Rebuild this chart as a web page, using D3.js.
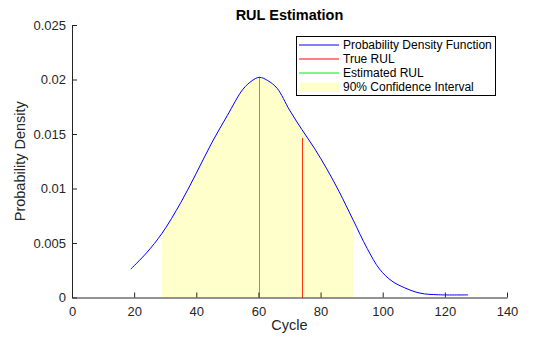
<!DOCTYPE html>
<html>
<head>
<meta charset="utf-8">
<script src="https://cdn.jsdelivr.net/npm/d3@7"></script>
<style>
  body { margin: 0; background: #fff; }
  text { font-family: Arial, "Liberation Sans", sans-serif; fill: #262626; }
</style>
</head>
<body>
<svg></svg>
<script>
// pdf of remaining useful life
const cycles  = [18.9, 24, 29, 35, 40, 45, 50, 55, 58, 60.3, 63, 66, 70, 74, 78, 82, 86,
                 90.5, 95, 99, 103, 107, 112, 118, 127.5];
const density = [0.0026, 0.0041, 0.0059, 0.0087, 0.0114, 0.0142, 0.0167, 0.0191, 0.0199, 0.0202, 0.0199, 0.0192,
                 0.0172, 0.0154, 0.0137, 0.0118, 0.0097, 0.0071, 0.0045, 0.0026, 0.0015, 0.0009, 0.0004,
                 0.00025, 0.00024];

const ciBounds = [28.9, 90.5];
const estRUL = [60.3, 0.0202];   // cycle, line top
const trueRUL = [74.1, 0.0146];

const xTicks = [0, 20, 40, 60, 80, 100, 120, 140];
const yTicks = [0, 0.005, 0.01, 0.015, 0.02, 0.025];
const yTickLabels = ['0', '0.005', '0.01', '0.015', '0.02', '0.025'];
const legendLabels = ['Probability Density Function', 'True RUL', 'Estimated RUL', '90% Confidence Interval'];

const W = 560, H = 337;
const svg = d3.select('svg')
    .attr('width', W)
    .attr('height', H);

const x = d3.scaleLinear().domain([0, 140]).range([72, 507]);
const y = d3.scaleLinear().domain([0, 0.025]).range([297.5, 25]);

const pts = cycles.map((c, i) => [c, density[i]]);

svg.append('clipPath')
    .attr('id', 'ci')
  .append('rect')
    .attr('x', x(ciBounds[0]))
    .attr('y', y(0.025))
    .attr('width', x(ciBounds[1]) - x(ciBounds[0]))
    .attr('height', y(0) - y(0.025));

const curve = d3.curveCatmullRom.alpha(0.5);

svg.append('path')
    .attr('clip-path', 'url(#ci)')
    .attr('fill', '#ffffcc')
    .attr('d', d3.area().curve(curve)
        .x(d => x(d[0]))
        .y0(y(0))
        .y1(d => y(d[1]))(pts));

svg.append('line')
    .attr('x1', x(estRUL[0])).attr('x2', x(estRUL[0]))
    .attr('y1', y(0)).attr('y2', y(estRUL[1]))
    .attr('stroke', '#33dd00')
    .attr('shape-rendering', 'crispEdges')
    .attr('stroke-width', 1);

svg.append('line')
    .attr('x1', x(trueRUL[0])).attr('x2', x(trueRUL[0]))
    .attr('y1', y(0)).attr('y2', y(trueRUL[1]))
    .attr('stroke', '#ff3311')
    .attr('shape-rendering', 'crispEdges')
    .attr('stroke-width', 1);

svg.append('path')
    .attr('fill', 'none')
    .attr('stroke', '#0000ff')
    .attr('stroke-width', 1)
    .attr('d', d3.line().curve(curve)
        .x(d => x(d[0]))
        .y(d => y(d[1]))(pts));

// axes, matlab style: ticks pointing in
svg.append('g')
    .attr('transform', `translate(0,${y(0)})`)
    .call(d3.axisBottom(x).tickValues(xTicks).tickSizeInner(-5).tickSizeOuter(0).tickPadding(9));

svg.append('g')
    .attr('transform', `translate(${x(0)},0)`)
    .call(d3.axisLeft(y).tickValues(yTicks).tickFormat((d, i) => yTickLabels[i])
        .tickSizeInner(-5).tickSizeOuter(0).tickPadding(6));

svg.selectAll('.domain, .tick line').attr('stroke', '#262626');
svg.selectAll('.tick text')
    .attr('font-family', 'Arial, "Liberation Sans", sans-serif')
    .attr('font-size', 13)
    .attr('fill', '#262626');

svg.append('text')
    .attr('x', (x(0) + x(140)) / 2)
    .attr('y', 19.5)
    .attr('text-anchor', 'middle')
    .attr('font-size', 14.5)
    .attr('font-weight', 'bold')
    .style('fill', '#000')
    .text('RUL Estimation');

svg.append('text')
    .attr('x', (x(0) + x(140)) / 2)
    .attr('y', 330)
    .attr('text-anchor', 'middle')
    .attr('font-size', 14.5)
    .text('Cycle');

svg.append('text')
    .attr('transform', `translate(25,${(y(0) + y(0.025)) / 2}) rotate(-90)`)
    .attr('text-anchor', 'middle')
    .attr('font-size', 14.5)
    .text('Probability Density');

// legend
const lg = svg.append('g');
lg.append('rect')
    .attr('x', 296.5).attr('y', 36.5)
    .attr('width', 199).attr('height', 59)
    .attr('fill', '#fff')
    .attr('stroke', '#000')
    .attr('stroke-width', 1);

const keyColors = ['#0000ff', '#ff0000', '#00ee00'];
legendLabels.forEach((label, i) => {
  const cy = 45 + i * 14;
  if (i < 3) {
    lg.append('line')
        .attr('x1', 299).attr('x2', 339)
        .attr('y1', cy).attr('y2', cy)
        .attr('stroke', keyColors[i])
        .attr('stroke-width', 1);
  } else {
    lg.append('rect')
        .attr('x', 300).attr('y', cy - 4.5)
        .attr('width', 39).attr('height', 9.5)
        .attr('fill', '#ffffcc');
  }
  lg.append('text')
      .attr('x', 343)
      .attr('y', cy + 4.2)
      .attr('font-size', 12)
      .style('fill', '#000')
      .text(label);
});
</script>
</body>
</html>
